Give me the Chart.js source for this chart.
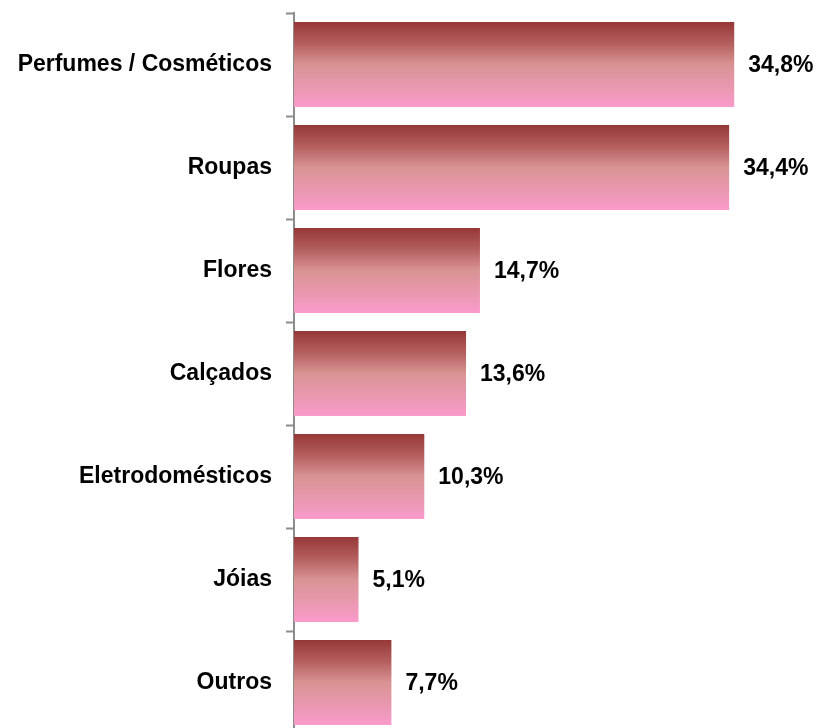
<!DOCTYPE html>
<html>
<head>
<meta charset="utf-8">
<script src="https://cdn.jsdelivr.net/npm/chart.js@4"></script>
<style>
  html, body { margin: 0; padding: 0; background: #fff; overflow: hidden; }
  canvas { display: block; }
</style>
</head>
<body>
<canvas id="chart" width="818" height="740"></canvas>
<script>
const categories = [
  "Perfumes / Cosméticos",
  "Roupas",
  "Flores",
  "Calçados",
  "Eletrodomésticos",
  "Jóias",
  "Outros",
];
const shares = [34.8, 34.4, 14.7, 13.6, 10.3, 5.1, 7.7];

const fmt = (v) => v.toFixed(1).replace(".", ",") + "%";
const FONT = "'Liberation Sans', Arial, sans-serif";

// vertical gradient per bar: dark red on top, pink at the bottom
function barFill(ctx) {
  const chart = ctx.chart;
  const y = chart.scales.y;
  if (!chart.chartArea || !y || ctx.dataIndex === undefined) return "#d99494";
  const center = y.getPixelForValue(ctx.dataIndex);
  const half = (y.height / categories.length) * 0.825 / 2;
  const g = chart.ctx.createLinearGradient(0, center - half, 0, center + half);
  g.addColorStop(0, "#963737");
  g.addColorStop(0.25, "#b45e5e");
  g.addColorStop(0.5, "#d99393");
  g.addColorStop(0.75, "#e898ae");
  g.addColorStop(1, "#fa9bcc");
  return g;
}

const valueLabels = {
  id: "valueLabels",
  afterDatasetsDraw(chart) {
    const c = chart.ctx;
    const meta = chart.getDatasetMeta(0);
    c.save();
    c.font = "bold 23px " + FONT;
    c.fillStyle = "#000";
    c.textBaseline = "middle";
    c.textAlign = "left";
    meta.data.forEach((bar, i) => {
      c.fillText(fmt(shares[i]), bar.x + 14, bar.y + 1);
    });
    c.restore();
  },
};

new Chart(document.querySelector("#chart").getContext("2d"), {
  type: "bar",
  data: {
    labels: categories,
    datasets: [
      {
        data: shares,
        backgroundColor: barFill,
        borderWidth: 0,
        barPercentage: 0.825,
        categoryPercentage: 1,
      },
    ],
  },
  options: {
    indexAxis: "y",
    responsive: false,
    animation: false,
    layout: { padding: { top: 13, right: 18, bottom: 6, left: 0 } },
    plugins: {
      legend: { display: false },
      tooltip: { enabled: false },
    },
    scales: {
      x: {
        display: false,
        min: 0,
        max: 40,
      },
      y: {
        afterFit: (s) => {
          s.width = 294;
          s.paddingTop = 0;
          s.paddingBottom = 0;
        },
        border: { color: "#8c8c8c", width: 2 },
        grid: {
          offset: true,
          drawOnChartArea: false,
          tickLength: 8,
          tickWidth: 2,
          tickColor: "#8c8c8c",
        },
        ticks: {
          padding: 14,
          color: "#000",
          font: { family: FONT, size: 23, weight: "bold" },
        },
      },
    },
  },
  plugins: [valueLabels],
});
</script>
</body>
</html>
